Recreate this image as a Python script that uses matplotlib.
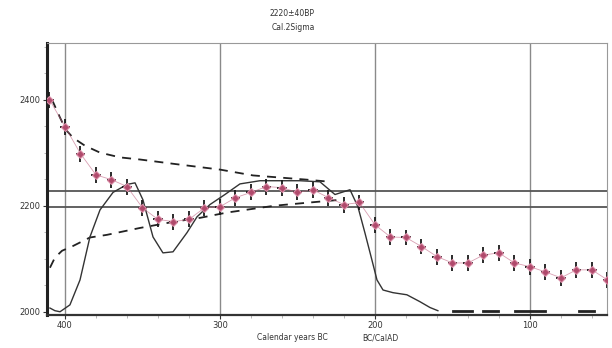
import matplotlib
matplotlib.use('Agg')
from matplotlib import pyplot as plt
from matplotlib.ticker import MultipleLocator

# calibration curve points (years BC, radiocarbon BP)
cal_years = [410, 400, 390, 380, 370, 360, 350, 340, 330, 320, 310, 300,
             290, 280, 270, 260, 250, 240, 230, 220, 210, 200, 190, 180,
             170, 160, 150, 140, 130, 120, 110, 100, 90, 80, 70, 60, 50]
cal_bp = [2400, 2349, 2298, 2258, 2249, 2236, 2196, 2174, 2170, 2174, 2196, 2198,
          2215, 2225, 2236, 2234, 2225, 2230, 2215, 2202, 2206, 2164, 2141, 2140,
          2123, 2104, 2092, 2092, 2107, 2111, 2092, 2085, 2075, 2064, 2079, 2079, 2060]
cal_err = 15
year_err = 3

# dashed envelopes
upper_years = [408.4, 403.2, 399.4, 394.8, 387.1, 377.4, 364.5, 351.6, 330.3, 300, 278.7, 261.3, 243.9, 229]
upper_bp = [2400, 2366, 2343, 2328, 2313, 2300, 2291, 2287, 2279, 2268, 2257, 2253, 2249, 2245]
lower_years = [409.7, 406.5, 401.9, 394.8, 383.9, 372.9, 351.6, 329, 312.9, 295.5, 264.5, 241.9, 222.6]
lower_bp = [2083, 2102, 2115, 2124, 2140, 2145, 2158, 2170, 2177, 2187, 2200, 2206, 2211]

# calibrated distribution
dist_years = [409.7, 406.5, 403.2, 396.8, 390.3, 383.9, 377.4, 369.0, 360.0, 354.8,
              349.7, 343.2, 336.8, 330.3, 321.3, 314.8, 306.5, 296.8, 287.1, 274.2,
              248.4, 235.5, 225.8, 216.1, 211.0, 206.5, 202.0, 198.7, 194.8, 188.4,
              179.4, 171.0, 164.5, 159.4]
dist_bp = [2007, 2002, 2000, 2013, 2060, 2141, 2192, 2225, 2240, 2243,
           2211, 2141, 2111, 2113, 2149, 2179, 2202, 2221, 2241, 2247,
           2247, 2245, 2221, 2230, 2198, 2149, 2098, 2060, 2041, 2036,
           2032, 2019, 2008, 2002]
tail_segments = [(149.7, 137.4), (130.3, 120.6), (109.7, 90.3), (68.4, 58.7)]
tail_bp = 2001

# measurement range
meas_lo, meas_hi = 2198, 2228

fig = plt.figure(figsize=(6.12, 3.48), dpi=100)
ax = fig.add_axes([0.0768, 0.095, 0.915, 0.782])

for yr in [400, 300, 200, 100]:
    ax.axvline(yr, color='#8a8a8a', lw=1.0, zorder=1)
ax.axhline(meas_lo, color='#555555', lw=1.3, zorder=1)
ax.axhline(meas_hi, color='#555555', lw=1.3, zorder=1)

ax.plot(upper_years, upper_bp, color='#222222', lw=1.3, dashes=(5, 4), zorder=2)
ax.plot(lower_years, lower_bp, color='#222222', lw=1.3, dashes=(5, 4), zorder=2)
ax.plot(dist_years, dist_bp, color='#333333', lw=1.0, zorder=2)
for a, b in tail_segments:
    ax.plot([a, b], [tail_bp, tail_bp], color='#222222', lw=2.0, zorder=2)

ax.errorbar(cal_years, cal_bp, yerr=cal_err, xerr=year_err, fmt='D',
            ms=4, mfc='#b04a6c', mec='#d88aa4', mew=0.8,
            ecolor='#1a1a1a', elinewidth=1.3, capsize=0, zorder=3)
ax.plot(cal_years, cal_bp, color='#c06080', lw=0.6, alpha=0.6, zorder=2)

ax.set_xlim(411.6, 50.3)
ax.set_ylim(1994, 2507)
ax.set_xticks([400, 300, 200, 100])
ax.xaxis.set_minor_locator(MultipleLocator(20))
ax.set_yticks([2000, 2200, 2400])
ax.yaxis.set_minor_locator(MultipleLocator(50))
ax.tick_params(labelsize=6, colors='#333333', length=3, width=0.8, pad=1.5)
ax.tick_params(which='minor', length=2, color='#aaaaaa')

ax.spines['left'].set_linewidth(2.2)
ax.spines['left'].set_color('#222222')
ax.spines['bottom'].set_linewidth(1.6)
ax.spines['bottom'].set_color('#333333')
ax.spines['top'].set_color('#999999')
ax.spines['right'].set_color('#999999')

fig.text(0.477, 0.962, '2220\u00b140BP', ha='center', va='center', fontsize=5.5, color='#333333')
fig.text(0.479, 0.922, 'Cal.2Sigma', ha='center', va='center', fontsize=5.5, color='#333333')
fig.text(0.478, 0.030, 'Calendar years BC', ha='center', va='center', fontsize=5.5, color='#333333')
fig.text(0.621, 0.030, 'BC/CalAD', ha='center', va='center', fontsize=5.5, color='#333333')

plt.savefig('out.png', dpi=100)
